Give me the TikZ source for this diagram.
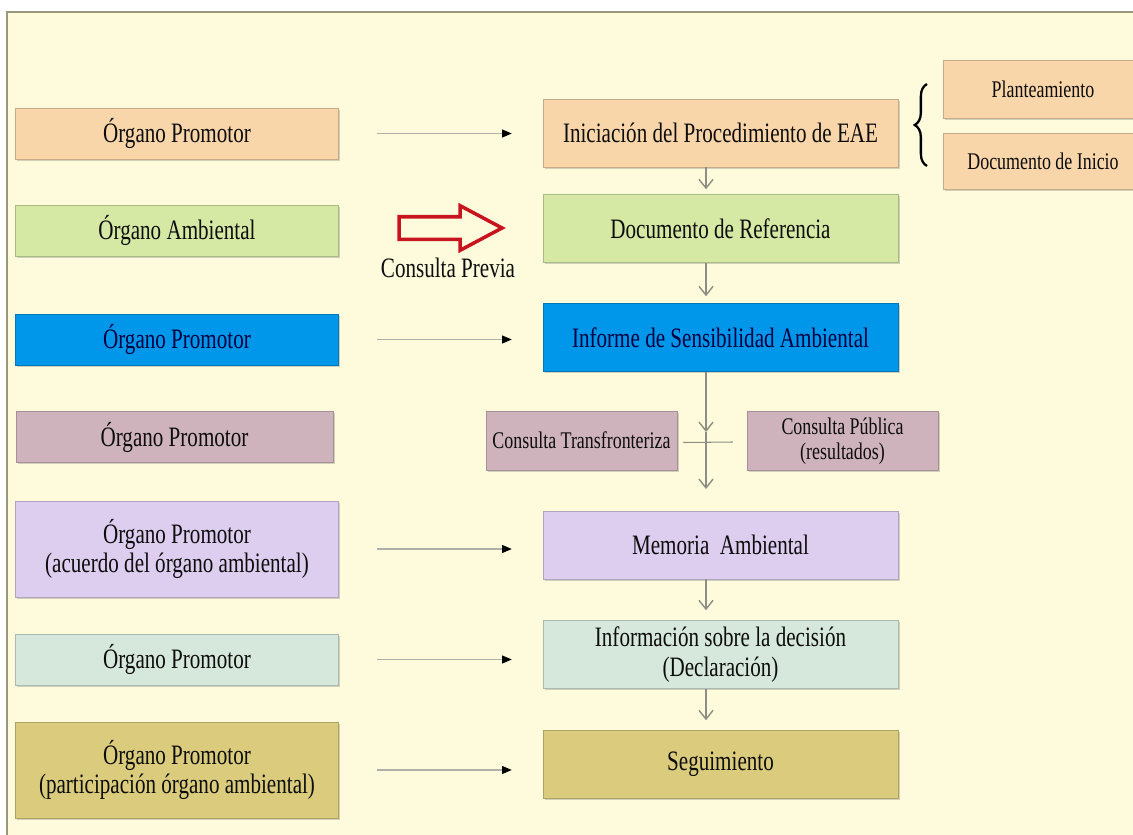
\documentclass[tikz,border=0pt]{standalone}
\usepackage{fontspec}
\setmainfont{Liberation Serif}[FakeStretch=0.75]
\usetikzlibrary{arrows.meta}
\usetikzlibrary{calc}
\usetikzlibrary{positioning}
\usetikzlibrary{shapes.arrows}
\usetikzlibrary{shadows}
\usetikzlibrary{decorations.pathreplacing}

\definecolor{bgcream}{HTML}{FDFBDC}
\definecolor{peach}{HTML}{F9D5AA}
\definecolor{leaf}{HTML}{D5E8A4}
\definecolor{sky}{HTML}{0096EA}
\definecolor{mauve}{HTML}{CFB3BC}
\definecolor{lilac}{HTML}{DDCDEF}
\definecolor{mint}{HTML}{D6E8DC}
\definecolor{olive}{HTML}{DACC7C}
\definecolor{arrowred}{HTML}{C8141E}
\definecolor{flowgrey}{HTML}{8E8E84}

\tikzset{
  box/.style={draw=#1!80!black, fill=#1, line width=0.3pt, inner sep=0,
    align=center, text=black!95, font=\fontsize{16}{17}\selectfont,
    drop shadow={shadow xshift=0.9pt, shadow yshift=-0.9pt, opacity=0.35}},
  organ/.style={box=#1, minimum width=6.46cm, minimum height=1.02cm},
  organtall/.style={organ=#1, minimum height=1.92cm},
  stage/.style={box=#1, minimum width=7.1cm, minimum height=1.36cm},
  side/.style={box=#1, minimum width=3.82cm, minimum height=1.18cm,
    font=\fontsize{13.6}{14.5}\selectfont},
  call/.style={-{Triangle[length=5.5pt,width=4.5pt,black]}, draw=flowgrey!70, line width=0.6pt},
  flow/.style={-{Straight Barb[length=5pt,width=8pt]}, draw=flowgrey, line width=0.8pt}
}

\begin{document}
\begin{tikzpicture}[x=0.02cm,y=-0.02cm]

  \useasboundingbox (0,0) rectangle (1133,835);
  \fill[bgcream] (7,12) rectangle (1133,835);
  \draw[gray!70!olive, line width=0.6pt] (7,835) -- (7,12) -- (1133,12);

  % who acts at each step
  \node (o1) [organ=peach] at (177,133.5) {Órgano Promotor};
  \node (o2) [organ=leaf] at (177,230.5) {Órgano Ambiental};
  \node (o3) [organ=sky, text=blue!25!black] at (177,339.5) {Órgano Promotor};
  \node (o4) [organ=mauve, minimum width=6.34cm] at (174.5,437) {Órgano Promotor};
  \node (o5) [organtall=lilac] at (177,549) {Órgano Promotor\\(acuerdo del órgano ambiental)};
  \node (o6) [organ=mint] at (177,659.5) {Órgano Promotor};
  \node (o7) [organtall=olive] at (177,770) {Órgano Promotor\\(participación órgano ambiental)};

  % the procedure
  \node (s1) [stage=peach] at (720.5,133) {Iniciación del Procedimiento de EAE};
  \node (s2) [stage=leaf] at (720.5,228.5) {Documento de Referencia};
  \node (s3) [stage=sky, text=blue!25!black] at (720.5,337.5) {Informe de Sensibilidad Ambiental};
  \node (ct) [side=mauve] at (581.5,440.5) {Consulta Transfronteriza};
  \node (cp) [side=mauve] at (842.5,441) {Consulta Pública\\(resultados)};
  \node (s5) [stage=lilac] at (720.5,545) {Memoria\ \ Ambiental};
  \node (s6) [stage=mint] at (720.5,654.5) {Información sobre la decisión\\(Declaración)};
  \node (s7) [stage=olive] at (720.5,764.5) {Seguimiento};

  % start documents
  \node (plant) [side=peach, minimum width=4cm, minimum height=1.16cm] at (1043,89) {Planteamiento};
  \node (docini) [side=peach, minimum width=4cm, minimum height=1.12cm] at (1043,161) {Documento de Inicio};
  \coordinate (blow) at (927,166);
  \coordinate (bhigh) at (927,84);
  \draw[decorate, decoration={brace, amplitude=7pt}, line width=1.3pt] (blow) -- (bhigh);

  % consulta previa
  \node (previa) [single arrow, draw=arrowred, fill=bgcream, line width=2pt,
    minimum height=2.06cm, inner xsep=0, inner ysep=0.19cm,
    single arrow head extend=0.22cm, single arrow tip angle=56] at (440,228) {};
  \node (previalbl) [font=\fontsize{16}{17}\selectfont, text=black!95] at (448,268) {Consulta Previa};

  % calls from the left column
  \foreach \o/\s in {o1/s1, o3/s3, o5/s5, o6/s6, o7/s7}
    \draw[call] ($(\o.east)+(38,0)$) -- ($(\o.east -| \s.west)+(-31,0)$);

  % main flow
  \coordinate (axis) at (706,0);
  \coordinate (jtop) at (706,432);
  \coordinate (jlow) at (706,489);
  \draw[flow] (s1.south -| axis) -- ($(s2.north -| axis)+(0,-5)$);
  \draw[flow] (s2.south -| axis) -- ($(s3.north -| axis)+(0,-7)$);
  \draw[flow] (s3.south -| axis) -- (jtop);
  \draw[flow] (jtop) -- (jlow);
  \draw[flowgrey, line width=0.6pt] ($(ct.east)+(6,2)$) -- ($(cp.west)+(-14,1)$);
  \draw[flow] (s5.south -| axis) -- ($(s6.north -| axis)+(0,-10)$);
  \draw[flow] (s6.south -| axis) -- ($(s7.north -| axis)+(0,-10)$);

\end{tikzpicture}
\end{document}
